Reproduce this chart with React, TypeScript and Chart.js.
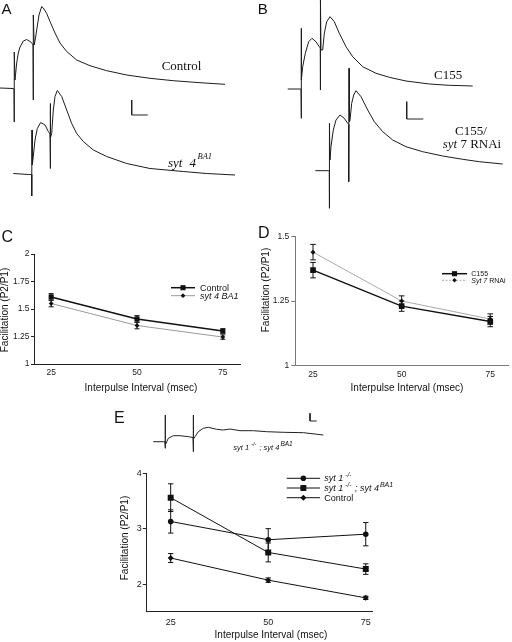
import React, { useEffect, useRef } from "react";
import { Chart, registerables } from "chart.js";

Chart.register(...registerables);

const SANS = '"Liberation Sans", Arial, sans-serif';
const SERIF = '"Liberation Serif", "Times New Roman", serif';

// ---------------- data ----------------
const INTERVALS = [25, 50, 75]; // msec
const X_TICKS = [25, 50, 75];

const C_Y_TICKS = [1, 1.25, 1.5, 1.75, 2];
const C_CONTROL = [1.61, 1.41, 1.3];
const C_CONTROL_SEM = [0.03, 0.03, 0.02];
const C_SYT4 = [1.55, 1.35, 1.245];
const C_SYT4_SEM = [0.03, 0.03, 0.02];

const D_Y_TICKS = [1, 1.25, 1.5];
const D_C155 = [1.37, 1.23, 1.17];
const D_C155_SEM = [0.03, 0.02, 0.02];
const D_RNAI = [1.44, 1.25, 1.18];
const D_RNAI_SEM = [0.03, 0.02, 0.02];

const E_Y_TICKS = [2, 3, 4];
const E_SYT1 = [3.13, 2.8, 2.9];
const E_SYT1_SEM = [0.21, 0.2, 0.21];
const E_DOUBLE = [3.56, 2.57, 2.27];
const E_DOUBLE_SEM = [0.25, 0.17, 0.095];
const E_CONTROL = [2.47, 2.07, 1.75];
const E_CONTROL_SEM = [0.08, 0.04, 0.03];

// Recorded traces: [time, amplitude] read off the picture (arbitrary units,
// time from trace start, amplitude upward from the trace's baseline)
type Pt = [number, number];
const TRACE_A_CONTROL: Pt[] = [
  [0, 0], [13, -0.5], [14, -1], [14, -34], [14.5, 36], [15, 8], [16.7, 25], [18.3, 35], [20, 41],
  [23.3, 47], [26.7, 48.5], [30, 46.5], [32.3, 44.5], [33, 43], [33, -12], [33.6, 73], [34.2, 43],
  [35.5, 50], [37, 60], [39, 73], [41.7, 81.5], [44, 79], [46.7, 74.5], [50, 66.5], [55, 55],
  [60, 45], [66.7, 36.5], [76.7, 28], [90, 22.3], [106.7, 17.3], [126.7, 13], [150, 9.7],
  [173.3, 7.3], [200, 5.3], [225, 3.7],
];
const TRACE_A_SYT4: Pt[] = [
  [0, 0], [16, -1], [18.4, -1], [18.4, -22.5], [18.7, 43.5], [19, 8.5], [20, 17], [21.7, 33.5],
  [24, 45], [27.4, 51], [31.7, 48.5], [35, 42], [36.7, 39.5], [36.7, 5], [37.1, 70], [37.5, 35.5],
  [38.4, 40], [40, 63.5], [41.7, 77], [44, 83], [48.4, 77], [53.4, 63.5], [58.4, 50], [63.4, 40],
  [70, 32], [80, 23.5], [93.4, 17], [113.4, 10], [136.7, 5], [170, 2], [193.4, 0], [221.7, -1.5],
];
const TRACE_B_C155: Pt[] = [
  [0, 0], [12.8, 0], [13.3, 0], [13.3, -29.3], [13.6, 60.7], [14, 9], [15, 22.3], [17.6, 35.7],
  [21, 47.3], [24.3, 50.7], [28.3, 47.3], [31.6, 42.3], [32.6, 41], [32.6, -1], [32.9, 89],
  [33.3, 39], [35, 39], [36.6, 55.7], [39, 67.3], [42.3, 72.3], [46.6, 67.3], [51.6, 55.7],
  [58.3, 42.3], [65, 32.3], [75, 22.3], [88.3, 15.7], [101.6, 11.7], [118.3, 8], [141.6, 5],
  [161.6, 3.7], [185, 3],
];
const TRACE_B_RNAI: Pt[] = [
  [0, 0], [13.4, 0], [14, 0], [14, -37.6], [14.3, 47.4], [14.7, 10.7], [15.7, 24], [18, 40.7],
  [20.7, 50.7], [24.7, 55.7], [29, 52.4], [32.4, 47.4], [33.4, 46.2], [33.4, -11], [33.7, 102.4],
  [34.1, 48.7], [34.7, 50.7], [36.4, 67.4], [38.4, 75.7], [40.7, 80], [45.7, 74], [52.4, 60.7],
  [59, 49], [67.4, 39], [77.4, 30.7], [90.7, 24], [107.4, 19], [127.4, 14.7], [147.4, 11.4],
  [164, 9], [187.4, 6.7],
];
const TRACE_E: Pt[] = [
  [0, 0], [10, 0], [11.7, 0], [11.7, -6.6], [12, 26.7], [12.3, -3.3], [15, 3.4], [20, 6],
  [26.7, 6], [35, 5], [39.7, 4.2], [39.7, -10], [40.1, 26.7], [40.5, 2.7], [41.7, 5], [45, 10],
  [50, 13.4], [55, 14.4], [63.4, 12.4], [70, 11.7], [76.7, 12.7], [86.7, 11], [100, 11],
  [113.4, 10], [130, 9.4], [150, 9], [170, 6.7],
];

// ---------------- helpers ----------------
type Part = { t: string; italic?: boolean; size?: number; raise?: number; gap?: number };

function drawRich(ctx: CanvasRenderingContext2D, x: number, baseline: number, parts: Part[], family: string, size: number, color: string) {
  let cx = x;
  ctx.save();
  ctx.fillStyle = color;
  ctx.textAlign = "left";
  ctx.textBaseline = "alphabetic";
  for (const p of parts) {
    cx += p.gap || 0;
    const s = p.size ?? size;
    ctx.font = `${p.italic ? "italic " : ""}${s}px ${family}`;
    ctx.fillText(p.t, cx, baseline - (p.raise || 0));
    cx += ctx.measureText(p.t).width;
  }
  ctx.restore();
}

function drawMarker(ctx: CanvasRenderingContext2D, style: string, x: number, y: number, r: number, color: string) {
  ctx.save();
  ctx.fillStyle = color;
  ctx.beginPath();
  if (style === "rect") {
    const s = r * Math.SQRT1_2;
    ctx.rect(x - s, y - s, 2 * s, 2 * s);
  } else if (style === "circle") {
    ctx.arc(x, y, r, 0, Math.PI * 2);
  } else {
    ctx.moveTo(x, y - r);
    ctx.lineTo(x + r, y);
    ctx.lineTo(x, y + r);
    ctx.lineTo(x - r, y);
    ctx.closePath();
  }
  ctx.fill();
  ctx.restore();
}

type Series = { values: number[]; sem: number[]; color: string; lineWidth: number; pointStyle: string; radius: number; dash?: number[] };
type LegendItem = { parts: Part[]; series: Series; legendDash?: number[] };

type FacSpec = {
  left: number; top: number; width: number; height: number;
  area: { left: number; top: number; right: number; bottom: number };
  xMin: number; xMax: number; yMin: number; yMax: number; yTicks: number[];
  axisColor: string; tickLen: number; yTickPad: number; xTickPad: number; tickFont: number;
  series: Series[];
  cap: number;
  legend: { x0: number; x1: number; textX: number; rows: number[]; items: LegendItem[]; size: number };
  xTitle: { x: number; y: number };
  yTitle: { x: number; y: number };
  letter?: { t: string; x: number; y: number; size: number };
};

function FacChart({ spec }: { spec: FacSpec }) {
  const ref = useRef<HTMLCanvasElement | null>(null);
  useEffect(() => {
    const L = spec.left, T = spec.top;
    const plugin = {
      id: "facExtras",
      beforeDatasetsDraw(chart: any) {
        const ctx = chart.ctx as CanvasRenderingContext2D;
        const ys = chart.scales.y;
        ctx.save();
        ctx.strokeStyle = "#111";
        ctx.lineWidth = 1;
        spec.series.forEach((s, i) => {
          const meta = chart.getDatasetMeta(i);
          meta.data.forEach((pt: any, j: number) => {
            const x = pt.x;
            const yTop = ys.getPixelForValue(s.values[j] + s.sem[j]);
            const yBot = ys.getPixelForValue(s.values[j] - s.sem[j]);
            ctx.beginPath();
            ctx.moveTo(x, yTop); ctx.lineTo(x, yBot);
            ctx.moveTo(x - spec.cap, yTop); ctx.lineTo(x + spec.cap, yTop);
            ctx.moveTo(x - spec.cap, yBot); ctx.lineTo(x + spec.cap, yBot);
            ctx.stroke();
          });
        });
        ctx.restore();
      },
      afterDraw(chart: any) {
        const ctx = chart.ctx as CanvasRenderingContext2D;
        // legend
        const lg = spec.legend;
        lg.items.forEach((it, k) => {
          const y = lg.rows[k] - T;
          ctx.save();
          ctx.strokeStyle = it.series.color;
          ctx.lineWidth = it.series.lineWidth;
          if (it.legendDash) ctx.setLineDash(it.legendDash);
          ctx.beginPath();
          ctx.moveTo(lg.x0 - L, y); ctx.lineTo(lg.x1 - L, y);
          ctx.stroke();
          ctx.restore();
          drawMarker(ctx, it.series.pointStyle, (lg.x0 + lg.x1) / 2 - L, y, it.series.radius, "#111");
          drawRich(ctx, lg.textX - L, y + lg.size * 0.35, it.parts, SANS, lg.size, "#111");
        });
        // axis titles
        ctx.save();
        ctx.fillStyle = "#111";
        ctx.font = `10px ${SANS}`;
        ctx.textAlign = "center";
        ctx.textBaseline = "middle";
        ctx.fillText("Interpulse Interval (msec)", spec.xTitle.x - L, spec.xTitle.y - T);
        ctx.translate(spec.yTitle.x - L, spec.yTitle.y - T);
        ctx.rotate(-Math.PI / 2);
        ctx.fillText("Facilitation (P2/P1)", 0, 0);
        ctx.restore();
        if (spec.letter) {
          ctx.save();
          ctx.fillStyle = "#111";
          ctx.font = `${spec.letter.size}px ${SANS}`;
          ctx.textBaseline = "alphabetic";
          ctx.fillText(spec.letter.t, spec.letter.x - L, spec.letter.y - T);
          ctx.restore();
        }
      },
    };
    const chart = new Chart(ref.current as HTMLCanvasElement, {
      type: "line",
      data: {
        datasets: spec.series.map((s) => ({
          data: INTERVALS.map((x, i) => ({ x, y: s.values[i] })),
          borderColor: s.color,
          borderWidth: s.lineWidth,
          borderDash: s.dash || [],
          pointStyle: s.pointStyle as any,
          pointRadius: s.radius,
          pointBackgroundColor: "#111",
          pointBorderWidth: 0,
          tension: 0,
          fill: false,
        })),
      },
      options: {
        responsive: false,
        animation: false,
        events: [],
        layout: {
          padding: { left: 0, top: spec.area.top - T, right: L + spec.width - spec.area.right, bottom: 0 },
        },
        plugins: { legend: { display: false }, tooltip: { enabled: false }, title: { display: false } },
        scales: {
          x: {
            type: "linear",
            min: spec.xMin,
            max: spec.xMax,
            afterBuildTicks: (s: any) => { s.ticks = X_TICKS.map((v) => ({ value: v })); },
            afterFit: (s: any) => { s.height = T + spec.height - spec.area.bottom; },
            grid: { display: false, drawTicks: false },
            border: { display: true, color: spec.axisColor, width: 1 },
            ticks: { padding: spec.xTickPad, color: "#222", font: { family: SANS, size: spec.tickFont }, maxRotation: 0, callback: (v: any) => String(v) },
          },
          y: {
            type: "linear",
            min: spec.yMin,
            max: spec.yMax,
            afterBuildTicks: (s: any) => { s.ticks = spec.yTicks.map((v) => ({ value: v })); },
            afterFit: (s: any) => { s.width = spec.area.left - L; },
            grid: { display: true, drawOnChartArea: false, drawTicks: true, tickLength: spec.tickLen, color: spec.axisColor, lineWidth: 1 },
            border: { display: true, color: spec.axisColor, width: 1 },
            ticks: { padding: spec.yTickPad, color: "#222", font: { family: SANS, size: spec.tickFont }, callback: (v: any) => String(v) },
          },
        },
      },
      plugins: [plugin],
    } as any);
    return () => chart.destroy();
  }, []);
  return (
    <canvas ref={ref} width={spec.width} height={spec.height}
      style={{ position: "absolute", left: spec.left, top: spec.top, width: spec.width, height: spec.height }} />
  );
}

type TraceDef = { points: Pt[]; origin: Pt; color: string; width: number };
type TraceSpec = {
  left: number; top: number; width: number; height: number;
  traces: TraceDef[];
  bar: { origin: Pt; t: number; v: number };
  labels: { x: number; baseline: number; parts: Part[]; family: string; size: number }[];
  letter?: { t: string; x: number; y: number; size: number };
};

function TraceChart({ spec }: { spec: TraceSpec }) {
  const ref = useRef<HTMLCanvasElement | null>(null);
  useEffect(() => {
    const L = spec.left, T = spec.top;
    const plugin = {
      id: "traceExtras",
      afterDraw(chart: any) {
        const ctx = chart.ctx as CanvasRenderingContext2D;
        spec.labels.forEach((lb) => drawRich(ctx, lb.x - L, lb.baseline - T, lb.parts, lb.family, lb.size, "#111"));
        if (spec.letter) {
          ctx.save();
          ctx.fillStyle = "#111";
          ctx.font = `${spec.letter.size}px ${SANS}`;
          ctx.textBaseline = "alphabetic";
          ctx.fillText(spec.letter.t, spec.letter.x - L, spec.letter.y - T);
          ctx.restore();
        }
      },
    };
    const toXY = (pts: Pt[], o: Pt) => pts.map(([t, v]) => ({ x: o[0] + t, y: -o[1] + v }));
    const barPts: Pt[] = [[0, spec.bar.v], [0, 0], [spec.bar.t, 0]];
    const datasets: any[] = spec.traces.map((tr) => ({
      data: toXY(tr.points, tr.origin),
      borderColor: tr.color,
      borderWidth: tr.width,
      pointRadius: 0,
      tension: 0,
      fill: false,
      clip: false,
    }));
    datasets.push({ data: toXY(barPts, spec.bar.origin), borderColor: "#222", borderWidth: 1, pointRadius: 0, tension: 0, fill: false });
    const chart = new Chart(ref.current as HTMLCanvasElement, {
      type: "line",
      data: { datasets },
      options: {
        responsive: false,
        animation: false,
        events: [],
        layout: { padding: 0 },
        plugins: { legend: { display: false }, tooltip: { enabled: false } },
        scales: {
          x: { type: "linear", display: false, min: L, max: L + spec.width },
          y: { type: "linear", display: false, min: -(T + spec.height), max: -T },
        },
      },
      plugins: [plugin],
    } as any);
    return () => chart.destroy();
  }, []);
  return (
    <canvas ref={ref} width={spec.width} height={spec.height}
      style={{ position: "absolute", left: spec.left, top: spec.top, width: spec.width, height: spec.height }} />
  );
}

// ---------------- panels ----------------
const BLACK = "#111";
const TRACE = "#1c1c1c";

const specA: TraceSpec = {
  left: 0, top: 0, width: 256, height: 215,
  traces: [
    { points: TRACE_A_CONTROL, origin: [0, 88], color: TRACE, width: 1 },
    { points: TRACE_A_SYT4, origin: [13.3, 173.5], color: TRACE, width: 1 },
  ],
  bar: { origin: [131.7, 115], t: 16, v: 15 },
  labels: [
    { x: 161.7, baseline: 70, parts: [{ t: "Control" }], family: SERIF, size: 13 },
    { x: 168, baseline: 166.7, parts: [{ t: "syt", italic: true }, { t: "4", italic: true, gap: 7 }, { t: "BA1", italic: true, size: 8.5, raise: 7.5, gap: 1.5 }], family: SERIF, size: 13 },
  ],
  letter: { t: "A", x: 1.5, y: 14, size: 15 },
};

const specB: TraceSpec = {
  left: 256, top: 0, width: 256, height: 215,
  traces: [
    { points: TRACE_B_C155, origin: [287.7, 89], color: TRACE, width: 1 },
    { points: TRACE_B_RNAI, origin: [315.3, 170.7], color: TRACE, width: 1 },
  ],
  bar: { origin: [406.7, 119], t: 16.6, v: 17.3 },
  labels: [
    { x: 434, baseline: 79, parts: [{ t: "C155" }], family: SERIF, size: 13 },
    { x: 455, baseline: 135, parts: [{ t: "C155/" }], family: SERIF, size: 13 },
    { x: 442.7, baseline: 147.7, parts: [{ t: "syt", italic: true }, { t: " 7 RNAi" }], family: SERIF, size: 13 },
  ],
  letter: { t: "B", x: 257.7, y: 14, size: 15 },
};

const specEInset: TraceSpec = {
  left: 110, top: 400, width: 240, height: 60,
  traces: [{ points: TRACE_E, origin: [153.3, 441.7], color: "#222", width: 1 }],
  bar: { origin: [310, 421], t: 6.7, v: 7.7 },
  labels: [
    {
      x: 233.3, baseline: 450.3,
      parts: [
        { t: "syt 1", italic: true },
        { t: "-/-", italic: true, size: 5.5, raise: 4, gap: 2 },
        { t: " ; syt 4", italic: true, gap: 1 },
        { t: "BA1", italic: true, size: 6.5, raise: 4, gap: 1 },
      ],
      family: SANS, size: 7.5,
    },
  ],
  letter: { t: "E", x: 114, y: 423, size: 16 },
};

const S_C_CONTROL: Series = { values: C_CONTROL, sem: C_CONTROL_SEM, color: BLACK, lineWidth: 1.5, pointStyle: "rect", radius: 3.6 };
const S_C_SYT4: Series = { values: C_SYT4, sem: C_SYT4_SEM, color: "#9a9a9a", lineWidth: 1, pointStyle: "rectRot", radius: 2.4 };

const specC: FacSpec = {
  left: 0, top: 215, width: 256, height: 185,
  area: { left: 34, top: 254, right: 240, bottom: 364 },
  xMin: 20, xMax: 80, yMin: 1, yMax: 2, yTicks: C_Y_TICKS,
  axisColor: "#222", tickLen: 3, yTickPad: 1.5, xTickPad: 4, tickFont: 8.5,
  series: [S_C_CONTROL, S_C_SYT4],
  cap: 2.5,
  legend: {
    x0: 171, x1: 195, textX: 200, rows: [287.7, 295.7], size: 9,
    items: [
      { parts: [{ t: "Control" }], series: S_C_CONTROL },
      { parts: [{ t: "syt 4 BA1", italic: true }], series: S_C_SYT4 },
    ],
  },
  xTitle: { x: 141, y: 388 },
  yTitle: { x: 5.5, y: 310 },
  letter: { t: "C", x: 1.5, y: 241.7, size: 16 },
};

const S_D_C155: Series = { values: D_C155, sem: D_C155_SEM, color: BLACK, lineWidth: 1.5, pointStyle: "rect", radius: 4 };
const S_D_RNAI: Series = { values: D_RNAI, sem: D_RNAI_SEM, color: "#aaaaaa", lineWidth: 1, pointStyle: "rectRot", radius: 2.5 };

const specD: FacSpec = {
  left: 256, top: 215, width: 256, height: 185,
  area: { left: 295.3, top: 236.7, right: 511, bottom: 365.3 },
  xMin: 20, xMax: 80, yMin: 1, yMax: 1.5, yTicks: D_Y_TICKS,
  axisColor: "#7a7a7a", tickLen: 4, yTickPad: 2, xTickPad: 4.5, tickFont: 8.5,
  series: [S_D_C155, S_D_RNAI],
  cap: 2.8,
  legend: {
    x0: 442, x1: 467, textX: 471.3, rows: [273.7, 280.3], size: 7,
    items: [
      { parts: [{ t: "C155" }], series: { ...S_D_C155, radius: 3.6 } },
      { parts: [{ t: "Syt 7", italic: true }, { t: " RNAi" }], series: { ...S_D_RNAI, radius: 2.2 }, legendDash: [2, 1.5] },
    ],
  },
  xTitle: { x: 407, y: 388.5 },
  yTitle: { x: 266, y: 290 },
  letter: { t: "D", x: 258, y: 238.3, size: 16 },
};

const S_E_SYT1: Series = { values: E_SYT1, sem: E_SYT1_SEM, color: BLACK, lineWidth: 1, pointStyle: "circle", radius: 2.8 };
const S_E_DOUBLE: Series = { values: E_DOUBLE, sem: E_DOUBLE_SEM, color: BLACK, lineWidth: 1, pointStyle: "rect", radius: 4.2 };
const S_E_CONTROL: Series = { values: E_CONTROL, sem: E_CONTROL_SEM, color: BLACK, lineWidth: 1, pointStyle: "rectRot", radius: 3 };

const specE: FacSpec = {
  left: 110, top: 460, width: 290, height: 182,
  area: { left: 146.3, top: 473.3, right: 372, bottom: 611.7 },
  xMin: 18.75, xMax: 76.6, yMin: 1.5, yMax: 4, yTicks: E_Y_TICKS,
  axisColor: "#222", tickLen: 3.5, yTickPad: 1, xTickPad: 5.5, tickFont: 9,
  series: [S_E_SYT1, S_E_DOUBLE, S_E_CONTROL],
  cap: 2.7,
  legend: {
    x0: 286.7, x1: 320, textX: 324.3, rows: [478.3, 488, 497.7], size: 9,
    items: [
      { parts: [{ t: "syt 1", italic: true }, { t: "-/-", italic: true, size: 6.5, raise: 4, gap: 2 }], series: S_E_SYT1 },
      {
        parts: [
          { t: "syt 1", italic: true },
          { t: "-/-", italic: true, size: 6.5, raise: 4, gap: 2 },
          { t: " ; syt 4", italic: true, gap: 1 },
          { t: "BA1", italic: true, size: 7, raise: 4, gap: 1 },
        ],
        series: S_E_DOUBLE,
      },
      { parts: [{ t: "Control" }], series: S_E_CONTROL },
    ],
  },
  xTitle: { x: 271, y: 635.5 },
  yTitle: { x: 125, y: 538 },
};

export default function App() {
  return (
    <div style={{ position: "absolute", left: 0, top: 0, width: 512, height: 642, background: "#fff", overflow: "hidden" }}>
      <TraceChart spec={specA} />
      <TraceChart spec={specB} />
      <FacChart spec={specC} />
      <FacChart spec={specD} />
      <TraceChart spec={specEInset} />
      <FacChart spec={specE} />
    </div>
  );
}
